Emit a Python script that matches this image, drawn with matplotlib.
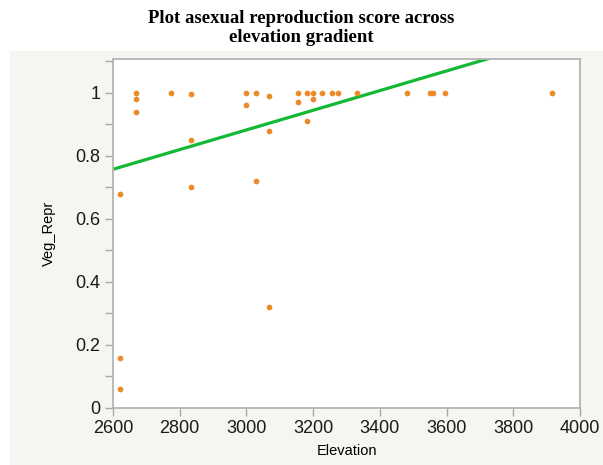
import matplotlib
matplotlib.use('Agg')
import matplotlib.pyplot as plt
import numpy as np
from matplotlib.patches import Rectangle
from matplotlib.ticker import MultipleLocator

elevation = [2620, 2620, 2620, 2669, 2669, 2669, 2774, 2835, 2835, 2835,
             3000, 3000, 3030, 3030, 3067, 3067, 3067, 3156, 3156, 3182,
             3182, 3200, 3200, 3226, 3255, 3273, 3331, 3482, 3550, 3560,
             3594, 3915]
veg_repr = [0.68, 0.16, 0.06, 1.0, 0.98, 0.94, 1.0, 0.995, 0.85, 0.70,
            1.0, 0.96, 1.0, 0.72, 0.99, 0.88, 0.32, 1.0, 0.97, 1.0,
            0.91, 1.0, 0.98, 1.0, 1.0, 1.0, 1.0, 1.0, 1.0, 1.0,
            1.0, 1.0]

# linear fit of Veg_Repr on Elevation
fit_slope = 0.000312
fit_intercept = -0.054

x_ticks = [2600, 2800, 3000, 3200, 3400, 3600, 3800, 4000]
y_ticks = [0, 0.2, 0.4, 0.6, 0.8, 1]


def main():
    plt.rcParams['font.family'] = ['Liberation Sans', 'DejaVu Sans']
    fig = plt.figure(figsize=(6.03, 4.65), dpi=100, facecolor='white')
    # grey report panel behind the graph
    fig.add_artist(Rectangle((0.0166, 0), 1, 0.8903, transform=fig.transFigure,
                             facecolor='#f6f5f2', edgecolor='none', zorder=-5))
    axes = fig.add_axes([0.1874, 0.1226, 0.7745, 0.7505])
    axes.set_zorder(2)
    axes.set_facecolor('white')

    x = np.array(elevation, dtype=float)
    y = np.array(veg_repr, dtype=float)
    xs = np.array([2600, 4000])
    axes.plot(xs, fit_intercept + fit_slope * xs, color='#13b834', lw=2.3, zorder=2)
    axes.scatter(x, y, s=17, color='#ec8a2c', zorder=3, linewidths=0)

    axes.set_xlim(2600, 4000)
    axes.set_ylim(0, 1.107)
    axes.set_xticks(x_ticks)
    axes.set_xticklabels([str(t) for t in x_ticks])
    axes.set_yticks(y_ticks)
    axes.set_yticklabels(['0', '0.2', '0.4', '0.6', '0.8', '1'])
    axes.yaxis.set_minor_locator(MultipleLocator(0.1))
    axes.tick_params(axis='both', which='major', labelsize=13, length=6,
                     color='#a8a8a8', width=1, pad=3, labelcolor='#1a1a1a')
    axes.tick_params(axis='y', which='minor', length=6, color='#a8a8a8', width=1)
    for side in ['left', 'bottom', 'right', 'top']:
        axes.spines[side].set_color('#b4b4b4')
        axes.spines[side].set_linewidth(1.3)

    axes.set_xlabel('Elevation', fontsize=10.5, labelpad=5)
    axes.set_ylabel('Veg_Repr', fontsize=10.5, labelpad=14)
    fig.text(0.5, 0.979, 'Plot asexual reproduction score across\nelevation gradient',
             ha='center', va='top', fontsize=13.5, fontweight='bold',
             family='Liberation Serif', linespacing=1.2)
    fig.savefig('out.png', dpi=100, facecolor=fig.get_facecolor())
    return


if __name__ == '__main__':
    main()
